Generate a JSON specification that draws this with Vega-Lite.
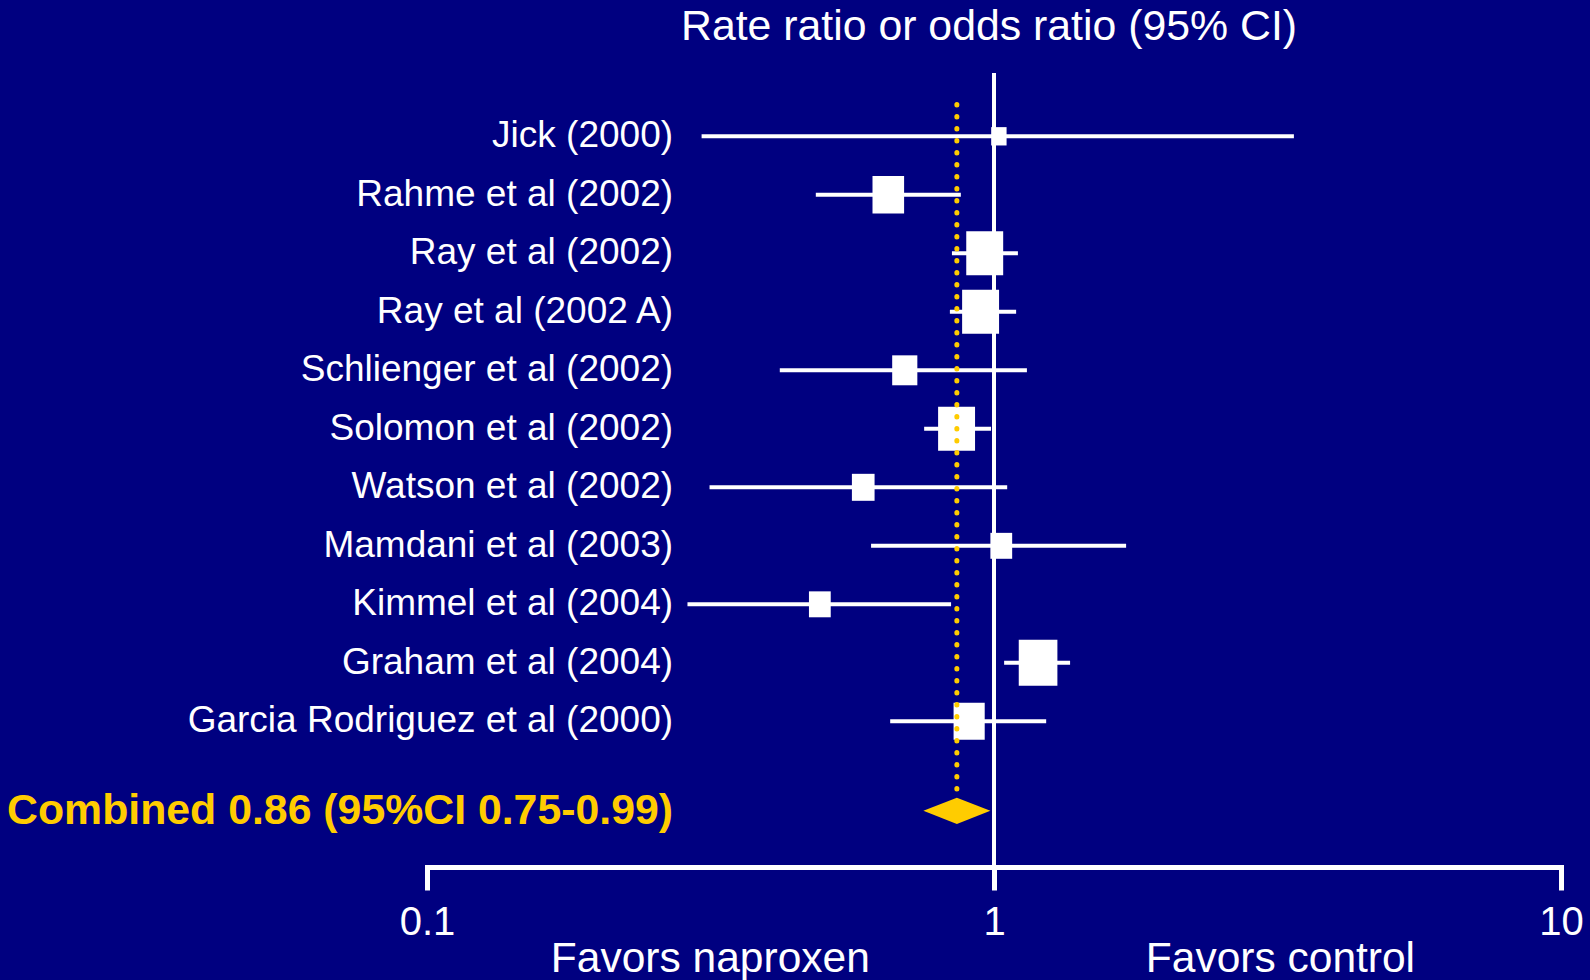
{
  "$schema": "https://vega.github.io/schema/vega-lite/v6.json",
  "width": 1134,
  "height": 794,
  "autosize": {"type": "none"},
  "padding": {"left": 427, "top": 73, "right": 29, "bottom": 113},
  "background": "#000080",
  "config": {
    "view": {"stroke": null},
    "font": "Liberation Sans",
    "axisX": {
      "domainColor": "white",
      "domainWidth": 5,
      "domainCap": "square",
      "tickColor": "white",
      "tickWidth": 5,
      "tickSize": 23,
      "labelColor": "white",
      "labelFont": "Liberation Sans",
      "labelFontSize": 40,
      "labelPadding": 12,
      "labelFlush": false,
      "labelOverlap": false,
      "labelBound": false,
      "grid": false
    }
  },
  "title": {
    "text": "Rate ratio or odds ratio (95% CI)",
    "color": "white",
    "font": "Liberation Sans",
    "fontSize": 42.8,
    "fontWeight": "normal",
    "anchor": "middle",
    "frame": "group",
    "baseline": "alphabetic",
    "offset": -12,
    "dx": -5
  },
  "datasets": {
    "studies": [
      {"study": "Jick (2000)", "row": 1, "est": 1.02, "lo": 0.305, "hi": 3.38, "weight": 2.4},
      {"study": "Rahme et al (2002)", "row": 2, "est": 0.651, "lo": 0.485, "hi": 0.874, "weight": 10.1},
      {"study": "Ray et al (2002)", "row": 3, "est": 0.963, "lo": 0.843, "hi": 1.102, "weight": 13.8},
      {"study": "Ray et al (2002 A)", "row": 4, "est": 0.947, "lo": 0.836, "hi": 1.094, "weight": 13.8},
      {"study": "Schlienger et al (2002)", "row": 5, "est": 0.696, "lo": 0.419, "hi": 1.143, "weight": 6.4},
      {"study": "Solomon et al (2002) ", "row": 6, "est": 0.859, "lo": 0.753, "hi": 0.988, "weight": 13.8},
      {"study": "Watson et al (2002)", "row": 7, "est": 0.588, "lo": 0.315, "hi": 1.055, "weight": 5.2},
      {"study": "Mamdani et al (2003)", "row": 8, "est": 1.03, "lo": 0.607, "hi": 1.71, "weight": 4.8},
      {"study": "Kimmel et al (2004)", "row": 9, "est": 0.493, "lo": 0.288, "hi": 0.84, "weight": 4.8},
      {"study": "Graham et al (2004)", "row": 10, "est": 1.196, "lo": 1.042, "hi": 1.362, "weight": 15.1},
      {"study": "Garcia Rodriguez et al (2000)", "row": 11, "est": 0.904, "lo": 0.656, "hi": 1.236, "weight": 9.8}
    ],
    "combined": [
      {"label": "Combined 0.86 (95%CI 0.75-0.99)", "row": 12.53, "est": 0.86, "lo": 0.75, "hi": 0.99}
    ]
  },
  "layer": [
    {
      "data": {"values": [{"ref": 1}]},
      "mark": {"type": "rule", "color": "white", "strokeWidth": 4},
      "encoding": {
        "x": {"field": "ref", "type": "quantitative", "title": null,
              "scale": {"type": "log", "domain": [0.1, 10], "nice": false},
              "axis": {"values": [0.1, 1, 10], "format": "~g", "title": null}}
      }
    },
    {
      "data": {"name": "studies"},
      "mark": {"type": "rule", "color": "white", "strokeWidth": 4},
      "encoding": {
        "x": {"field": "lo", "type": "quantitative", "title": null},
        "x2": {"field": "hi"},
        "y": {"field": "row", "type": "quantitative", "axis": null,
              "scale": {"domain": [-0.082, 13.49], "reverse": true, "nice": false, "zero": false}}
      }
    },
    {
      "data": {"name": "studies"},
      "mark": {"type": "point", "shape": "M-0.84,-1L0.84,-1L0.84,1L-0.84,1Z", "filled": true, "color": "white", "opacity": 1, "strokeWidth": 0},
      "encoding": {
        "x": {"field": "est", "type": "quantitative", "title": null},
        "y": {"field": "row", "type": "quantitative", "axis": null},
        "size": {"field": "weight", "type": "quantitative", "legend": null,
                 "scale": {"type": "linear", "domain": [0, 15.1], "range": [0, 2116]}}
      }
    },
    {
      "data": {"name": "combined"},
      "mark": {"type": "rule", "color": "#FFCC00", "strokeWidth": 5, "strokeCap": "round", "strokeDash": [0.5, 11.5]},
      "encoding": {
        "x": {"field": "est", "type": "quantitative", "title": null},
        "y": {"datum": 0.456, "type": "quantitative", "axis": null},
        "y2": {"datum": 12.19}
      }
    },
    {
      "data": {"name": "combined"},
      "mark": {"type": "point", "shape": "M-1,0L0,-0.39L1,0L0,0.39Z", "size": 4489, "filled": true, "color": "#FFCC00", "opacity": 1, "strokeWidth": 0},
      "encoding": {
        "x": {"field": "est", "type": "quantitative", "title": null},
        "y": {"field": "row", "type": "quantitative", "axis": null}
      }
    },
    {
      "data": {"name": "studies"},
      "mark": {"type": "text", "align": "right", "baseline": "middle", "fontSize": 37, "color": "white", "font": "Liberation Sans"},
      "encoding": {
        "x": {"datum": 0.2716, "type": "quantitative", "title": null},
        "y": {"field": "row", "type": "quantitative", "axis": null},
        "text": {"field": "study"}
      }
    },
    {
      "data": {"name": "combined"},
      "mark": {"type": "text", "align": "right", "baseline": "middle", "fontSize": 42.8, "fontWeight": "bold", "color": "#FFCC00", "font": "Liberation Sans"},
      "encoding": {
        "x": {"datum": 0.2716, "type": "quantitative", "title": null},
        "y": {"field": "row", "type": "quantitative", "axis": null},
        "text": {"field": "label"}
      }
    },
    {
      "data": {"values": [{"label": "Favors naproxen"}]},
      "mark": {"type": "text", "align": "center", "baseline": "middle", "fontSize": 42.5, "color": "white", "font": "Liberation Sans"},
      "encoding": {
        "x": {"datum": 0.316, "type": "quantitative", "title": null},
        "y": {"datum": 15.06, "type": "quantitative", "axis": null},
        "text": {"field": "label"}
      }
    },
    {
      "data": {"values": [{"label": "Favors control"}]},
      "mark": {"type": "text", "align": "center", "baseline": "middle", "fontSize": 42.5, "color": "white", "font": "Liberation Sans"},
      "encoding": {
        "x": {"datum": 3.2, "type": "quantitative", "title": null},
        "y": {"datum": 15.06, "type": "quantitative", "axis": null},
        "text": {"field": "label"}
      }
    }
  ]
}
